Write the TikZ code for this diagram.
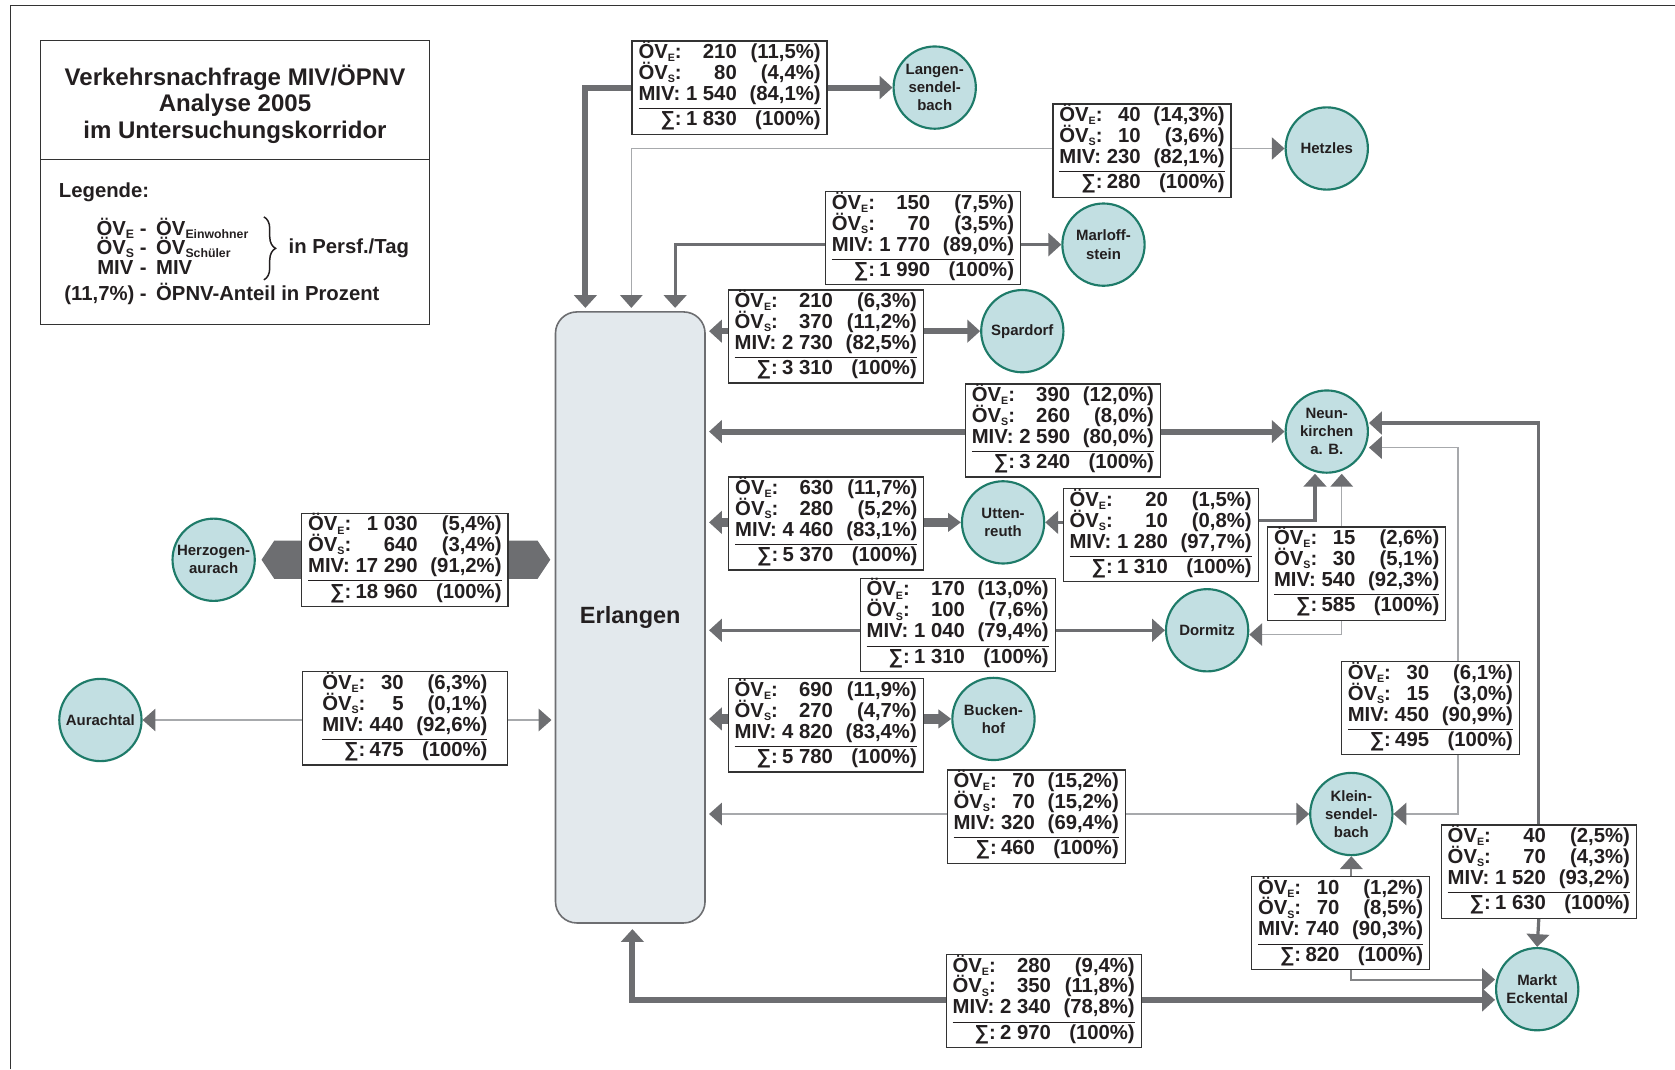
\documentclass[tikz,border=0pt]{standalone}
\usepackage{fontspec}
\setmainfont{Liberation Sans}
\usetikzlibrary{arrows.meta,decorations.pathreplacing,calc}
\pgfdeclarelayer{bg}
\pgfsetlayers{bg,main}
\definecolor{agray}{HTML}{6D6E71}
\definecolor{lgray}{HTML}{A7A9AC}
\definecolor{cfill}{HTML}{C2DFE2}
\definecolor{cline}{HTML}{1E7B69}
\definecolor{efill}{HTML}{E3E9ED}
\definecolor{erlb}{HTML}{6D6E71}
\definecolor{boxc}{HTML}{333333}
\definecolor{txt}{HTML}{231F20}
\setlength\arrayrulewidth{1pt}
\newcommand\sbs[1]{\raisebox{-3pt}{\fontsize{10}{10}\selectfont #1}}
\newcommand\lsub[1]{\raisebox{-3pt}{\fontsize{11.5}{12}\selectfont #1}}
\newcommand\myOVE{ÖV\sbs{E}}
\newcommand\myOVS{ÖV\sbs{S}}
\newcommand\dtab[7]{\begin{tabular}{@{}l@{\hspace{4pt}}r@{\hspace{12pt}}r@{}}%
\rule{0pt}{14.5pt}\smash{\myOVE:}&#1&(#2\%)\\
\smash{\myOVS:}&#3&(#4\%)\\
MIV:&#5&(#6\%)\\[1.5pt]\hline
\rule{0pt}{15.5pt}\hfill∑:&#7&(100\%)\end{tabular}}
\begin{document}
\begin{tikzpicture}[x=1pt,y=1pt,
  dbox/.style={draw=boxc, line width=1.2pt, fill=white, inner xsep=6pt, inner ysep=2pt, text=txt, font=\fontsize{19}{19.3}\selectfont\bfseries},
  town/.style={circle, draw=cline, fill=cfill, line width=2pt, minimum size=77pt, inner sep=0pt, align=center, text=txt, font=\fontsize{14}{17}\selectfont\bfseries},
  erl/.style={draw=erlb, fill=efill, line width=1.5pt, rounded corners=20pt, minimum width=140pt, minimum height=572pt, text=txt, font=\fontsize{22}{24}\selectfont\bfseries},
  lg/.style={text=txt, inner sep=0pt, font=\fontsize{19}{20}\selectfont\bfseries},
  tipc/.style={-{Triangle[length=12pt,width=21pt,color=agray]}},
  thickc/.style={draw=agray, line width=5.5pt, tipc},
  bandc/.style={draw=agray, line width=9pt, tipc},
  medc/.style={draw=agray, line width=3pt, tipc},
  kec/.style={draw=agray!85, line width=2pt, tipc},
  thinc/.style={draw=lgray, line width=1.3pt, tipc},
  toerl/.style={shorten >=3pt}
]
\useasboundingbox (0,0) rectangle (1568,-1001);
% frame
\draw[boxc, line width=1.5pt] (10,-1001) -- (10,-5) -- (1568,-5);
% legend
\node[draw=boxc, line width=1pt, minimum width=364pt, minimum height=266pt, inner sep=0pt] (leg) at (220,-171) {};
\coordinate (ydiv) at (0,-149);
\draw[boxc, line width=1pt] (leg.west |- ydiv) -- (leg.east |- ydiv);
\node[text=txt, align=center, font=\fontsize{22.5}{24.5}\selectfont\bfseries] (title) at (220,-97.5) {Verkehrsnachfrage MIV/ÖPNV\\Analyse 2005\\im Untersuchungskorridor};
\node[lg, anchor=west] (legh) at (55,-180) {Legende:};
\node[lg, anchor=base] (l1a) at (108,-220) {ÖV\lsub{E}};
\node[lg, anchor=base] (l1b) at (134,-220) {-};
\node[lg, anchor=base west] (l1c) at (146,-220) {ÖV\lsub{Einwohner}};
\node[lg, anchor=base] (l2a) at (108,-238.5) {ÖV\lsub{S}};
\node[lg, anchor=base] (l2b) at (134,-238.5) {-};
\node[lg, anchor=base west] (l2c) at (146,-238.5) {ÖV\lsub{Schüler}};
\node[lg, anchor=base] (l3a) at (108,-257) {MIV};
\node[lg, anchor=base] (l3b) at (134,-257) {-};
\node[lg, anchor=base west] (l3c) at (146,-257) {MIV};
\node[lg, anchor=base east] (l4a) at (126,-281) {(11,7\%)};
\node[lg, anchor=base] (l4b) at (134,-281) {-};
\node[lg, anchor=base west] (l4c) at (146,-281) {ÖPNV-Anteil in Prozent};
\coordinate (bt) at (247,-203);
\coordinate (bb) at (247,-262);
\draw[txt, line width=1.4pt, decorate, decoration={brace, amplitude=11pt}] (bt) -- (bb);
\node[lg, anchor=west] (lpt) at (270,-232) {in Persf./Tag};
% Erlangen
\node[erl] (Erl) at (590,-578) {Erlangen};
% towns
\node[town] (Lang) at (875,-82) {Langen-\\sendel-\\bach};
\node[town] (Hetz) at (1242,-139) {Hetzles};
\node[town] (Marl) at (1033,-229) {Marloff-\\stein};
\node[town] (Spar) at (957,-310) {Spardorf};
\node[town] (Neun) at (1242,-404) {Neun-\\kirchen\\a. B.};
\node[town] (Utt) at (939,-489) {Utten-\\reuth};
\node[town] (Dorm) at (1130,-590) {Dormitz};
\node[town] (Buck) at (930,-673) {Bucken-\\hof};
\node[town] (Klein) at (1265,-762) {Klein-\\sendel-\\bach};
\node[town] (Eck) at (1439,-926) {Markt\\Eckental};
\node[town] (Herz) at (200,-524) {Herzogen-\\aurach};
\node[town] (Aur) at (94,-674) {Aurachtal};
% data boxes
\node[dbox] (L) at (683,-82) {\dtab{210}{11,5}{80}{4,4}{1~540}{84,1}{1~830}};
\node[dbox] (H) at (1069,-141) {\dtab{40}{14,3}{10}{3,6}{230}{82,1}{280}};
\node[dbox] (M) at (864,-223) {\dtab{150}{7,5}{70}{3,5}{1~770}{89,0}{1~990}};
\node[dbox] (S) at (773,-315) {\dtab{210}{6,3}{370}{11,2}{2~730}{82,5}{3~310}};
\node[dbox] (N) at (995,-403) {\dtab{390}{12,0}{260}{8,0}{2~590}{80,0}{3~240}};
\node[dbox] (U) at (773.5,-490) {\dtab{630}{11,7}{280}{5,2}{4~460}{83,1}{5~370}};
\node[dbox] (UN) at (1086.5,-501) {\dtab{20}{1,5}{10}{0,8}{1~280}{97,7}{1~310}};
\node[dbox] (ND) at (1270,-537) {\dtab{15}{2,6}{30}{5,1}{540}{92,3}{585}};
\node[dbox] (D) at (896.5,-585) {\dtab{170}{13,0}{100}{7,6}{1~040}{79,4}{1~310}};
\node[dbox] (Hz) at (379,-524) {\dtab{1~030}{5,4}{640}{3,4}{17~290}{91,2}{18~960}};
\node[dbox, minimum width=192pt] (A) at (379,-672.5) {\dtab{30}{6,3}{5}{0,1}{440}{92,6}{475}};
\node[dbox] (B) at (773,-679) {\dtab{690}{11,9}{270}{4,7}{4~820}{83,4}{5~780}};
\node[dbox] (NK) at (1339,-663) {\dtab{30}{6,1}{15}{3,0}{450}{90,9}{495}};
\node[dbox] (K) at (970,-764.5) {\dtab{70}{15,2}{70}{15,2}{320}{69,4}{460}};
\node[dbox] (NE) at (1440.5,-816) {\dtab{40}{2,5}{70}{4,3}{1~520}{93,2}{1~630}};
\node[dbox] (KE) at (1255,-864) {\dtab{10}{1,2}{70}{8,5}{740}{90,3}{820}};
\node[dbox] (E) at (977,-937) {\dtab{280}{9,4}{350}{11,8}{2~340}{78,8}{2~970}};
% helper levels
\coordinate (yE1) at (0,-936);
\coordinate (yE2) at (0,-917);
\coordinate (yUN) at (0,-487);
\coordinate (yN1) at (0,-396);
\coordinate (yN2) at (0,-419);
\coordinate (yDm) at (0,-594);
\begin{pgfonlayer}{bg}
% Langensendelbach
\draw[thickc, toerl] (L.west |- Lang) -| ([xshift=-42pt]Erl.north);
\draw[thickc] (L.east |- Lang) -- (Lang.west);
% Hetzles
\draw[thinc, toerl] (H.west |- Hetz) -| ([xshift=1pt]Erl.north);
\draw[thinc] (H.east |- Hetz) -- (Hetz.west);
% Marloffstein
\draw[medc, toerl] (M.west |- Marl) -| ([xshift=42pt]Erl.north);
\draw[medc] (M.east |- Marl) -- (Marl.west);
% Spardorf
\draw[thickc, toerl] (S.west |- Spar) -- (Erl.east |- Spar);
\draw[thickc] (S.east |- Spar) -- (Spar.west);
% Neunkirchen
\draw[thickc, toerl] (N.west |- Neun) -- (Erl.east |- Neun);
\draw[thickc] (N.east |- Neun) -- (Neun.west);
% Uttenreuth
\draw[bandc, toerl] (U.west |- Utt) -- (Erl.east |- Utt);
\draw[draw=agray, line width=9pt, -{Triangle[length=12pt,width=17pt,color=agray]}] (U.east |- Utt) -- (Utt.west);
\draw[medc] (UN.west |- Utt) -- (Utt.east);
\draw[medc] (UN.east |- yUN) -| ([xshift=-11pt]Neun.south);
% Neunkirchen - Dormitz
\draw[thinc] ([xshift=-14pt]ND.north) -- ([xshift=14pt]Neun.south);
\draw[thinc] ([xshift=-14pt]ND.south) |- (Dorm.east |- yDm);
% Dormitz
\draw[medc, toerl] (D.west |- Dorm) -- (Erl.east |- Dorm);
\draw[medc] (D.east |- Dorm) -- (Dorm.west);
% Herzogenaurach
\fill[agray] ([yshift=18pt]Hz.west) -- ++(-25,0) -- ++(-12,-18) -- ++(12,-18) -- ([yshift=-18pt]Hz.west) -- cycle;
\fill[agray] ([yshift=18pt]Hz.east) -- ++(27,0) -- ++(12,-18) -- ++(-12,-18) -- ([yshift=-18pt]Hz.east) -- cycle;
% Aurachtal
\draw[thinc] (A.west |- Aur) -- (Aur.east);
\draw[thinc, toerl] (A.east |- Aur) -- (Erl.west |- Aur);
% Buckenhof
\draw[bandc, toerl] (B.west |- Buck) -- (Erl.east |- Buck);
\draw[draw=agray, line width=9pt, -{Triangle[length=12pt,width=17pt,color=agray]}] (B.east |- Buck) -- (Buck.west);
% Kleinsendelbach
\draw[thinc, toerl] (K.west |- Klein) -- (Erl.east |- Klein);
\draw[thinc] (K.east |- Klein) -- (Klein.west);
% Neunkirchen - Kleinsendelbach
\draw[thinc] ([xshift=26pt]NK.north) |- (Neun.east |- yN2);
\draw[thinc] ([xshift=26pt]NK.south) |- (Klein.east);
% Neunkirchen - Markt Eckental
\draw[medc] (NE.north) |- (Neun.east |- yN1);
\draw[medc] (NE.south) -- (Eck.north);
% Kleinsendelbach - Markt Eckental
\draw[kec] ([xshift=10pt]KE.north) -- (Klein.south);
\draw[kec] ([xshift=10pt]KE.south) |- (Eck.west |- yE2);
% Erlangen - Markt Eckental
\draw[thickc, shorten >=5pt] (E.west |- yE1) -| ([xshift=2pt]Erl.south);
\draw[thickc] (E.east |- yE1) -- (Eck.west |- yE1);
\end{pgfonlayer}
\end{tikzpicture}
\end{document}
